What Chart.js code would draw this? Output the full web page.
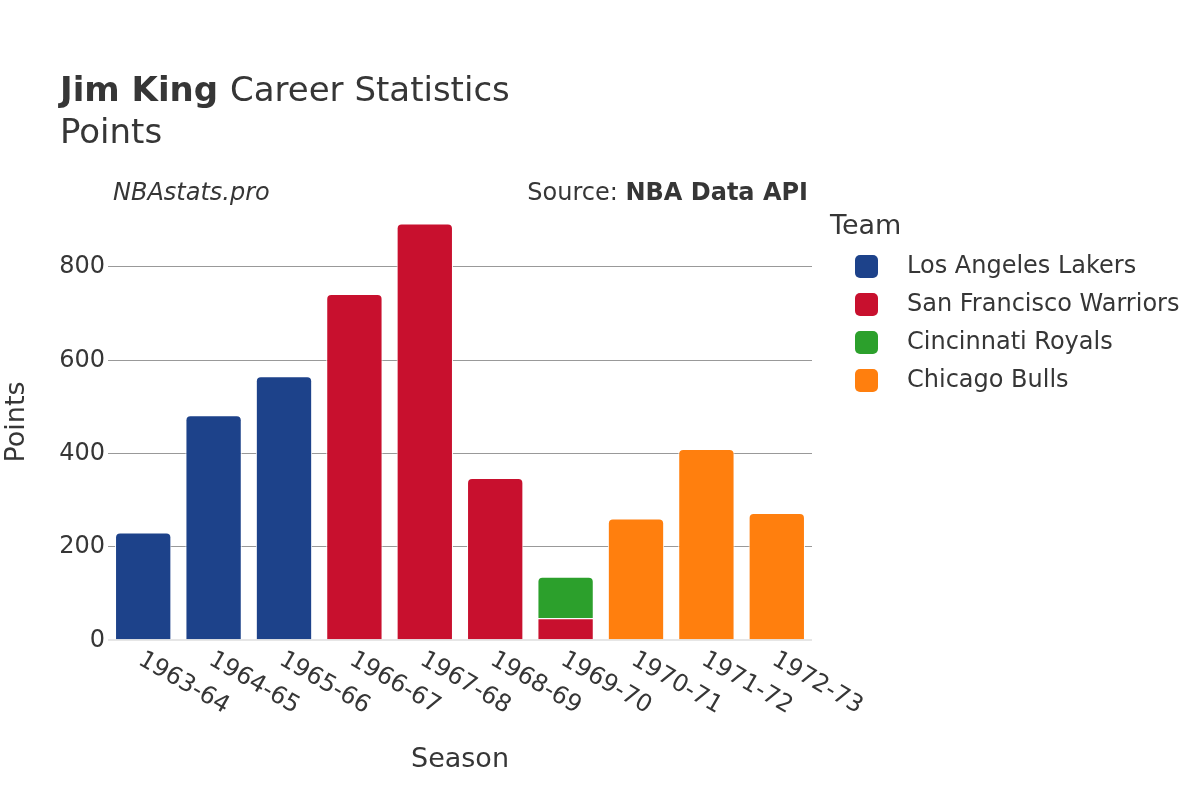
<!DOCTYPE html>
<html>
<head>
<meta charset="utf-8">
<script src="https://cdn.jsdelivr.net/npm/chart.js@4/dist/chart.umd.min.js"></script>
<style>
  body { margin: 0; background: #fff; }
  #wrap { width: 1200px; height: 800px; }
</style>
</head>
<body>
<div id="wrap"><canvas id="c" width="1200" height="800"></canvas></div>
<script>
// valores
const seasons = ["1963-64", "1964-65", "1965-66", "1966-67", "1967-68", "1968-69", "1969-70", "1970-71", "1971-72", "1972-73"];
const lakers   = [231, 482, 566, null, null, null, null, null, null, null];
const warriors = [null, null, null, 742, 893, 348, 47, null, null, null];
const royals   = [null, null, null, null, null, null, 89, null, null, null];
const bulls    = [null, null, null, null, null, null, null, 261, 410, 273];
const yTicks = [0, 200, 400, 600, 800];

const FONT = "'DejaVu Sans', sans-serif";
const TXT = "#363636";

// textos, eixos e legenda desenhados à mão
const decor = {
  id: "decor",
  afterDraw(chart) {
    const ctx = chart.ctx;
    const x = chart.scales.x, y = chart.scales.y;
    const area = chart.chartArea;
    ctx.save();
    ctx.fillStyle = TXT;

    // título
    ctx.textBaseline = "alphabetic";
    ctx.textAlign = "left";
    ctx.font = "bold 34px " + FONT;
    ctx.fillText("Jim King", 60, 101);
    const w = ctx.measureText("Jim King ").width;
    ctx.font = "34px " + FONT;
    ctx.fillText("Career Statistics", 60 + w, 101);
    ctx.fillText("Points", 60, 143);

    // marca e fonte
    ctx.font = "italic 24px " + FONT;
    ctx.fillText("NBAstats.pro", 113, 200);
    ctx.textAlign = "right";
    ctx.font = "bold 24px " + FONT;
    ctx.fillText("NBA Data API", 808, 200);
    const bw = ctx.measureText("NBA Data API").width;
    ctx.font = "24px " + FONT;
    ctx.fillText("Source: ", 808 - bw, 200);

    // ticks do eixo y
    ctx.textBaseline = "middle";
    ctx.font = "24px " + FONT;
    yTicks.forEach(v => ctx.fillText(String(v), area.left - 3, y.getPixelForValue(v)));

    // ticks do eixo x, girados 30 graus
    ctx.textAlign = "left";
    seasons.forEach((s, i) => {
      ctx.save();
      ctx.translate(x.getPixelForValue(i) - 3, 658);
      ctx.rotate(Math.PI / 6);
      ctx.fillText(s, 0, 0);
      ctx.restore();
    });

    // títulos dos eixos
    ctx.font = "27px " + FONT;
    ctx.textAlign = "center";
    ctx.fillText("Season", (area.left + area.right) / 2, 760);
    ctx.save();
    ctx.translate(17, (area.top + area.bottom) / 2 + 1);
    ctx.rotate(-Math.PI / 2);
    ctx.fillText("Points", 0, 0);
    ctx.restore();

    // legenda
    ctx.textAlign = "left";
    ctx.font = "27px " + FONT;
    ctx.fillText("Team", 830, 227);
    ctx.font = "24px " + FONT;
    chart.data.datasets.forEach((ds, i) => {
      const cy = 266 + i * 38;
      ctx.fillStyle = ds.backgroundColor;
      ctx.beginPath();
      ctx.roundRect(855, cy - 11, 23, 23, 5);
      ctx.fill();
      ctx.fillStyle = TXT;
      ctx.fillText(ds.label, 907, cy + 1);
    });
    ctx.restore();
  }
};

const mkSet = (label, data, color) => ({
  label, data,
  backgroundColor: color,
  borderColor: "#fff",
  borderWidth: 1,
  borderSkipped: "start",
  borderRadius: 5,
  barPercentage: 0.8,
  categoryPercentage: 1.0,
});

new Chart(document.getElementById("c"), {
  type: "bar",
  data: {
    labels: seasons,
    datasets: [
      mkSet("Los Angeles Lakers", lakers, "#1d428a"),
      mkSet("San Francisco Warriors", warriors, "#c8102e"),
      mkSet("Cincinnati Royals", royals, "#2ca02c"),
      mkSet("Chicago Bulls", bulls, "#ff7f0e"),
    ],
  },
  options: {
    responsive: false,
    animation: false,
    layout: { padding: { left: 108, right: 388, top: 201.6, bottom: 159.7 } },
    plugins: { legend: { display: false }, tooltip: { enabled: false } },
    scales: {
      x: { stacked: true, display: false },
      y: {
        stacked: true,
        min: 0,
        max: 940,
        afterBuildTicks: (s) => { s.ticks = yTicks.map(v => ({ value: v })); },
        ticks: { display: false },
        border: { display: false },
        grid: {
          drawTicks: false,
          color: (c) => c.tick && c.tick.value === 0 ? "#e6e6e6" : "#999",
          lineWidth: (c) => c.tick && c.tick.value === 0 ? 2 : 1,
        },
      },
    },
  },
  plugins: [decor],
});
</script>
</body>
</html>
